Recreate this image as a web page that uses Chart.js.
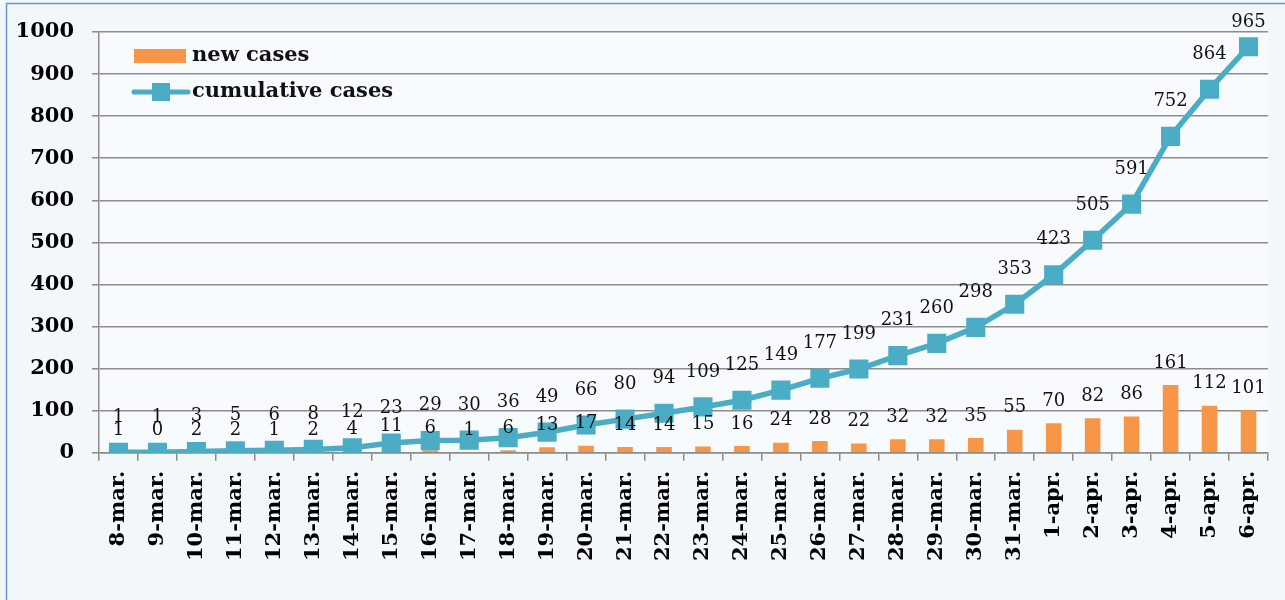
<!DOCTYPE html>
<html>
<head>
<meta charset="utf-8">
<script src="https://cdn.jsdelivr.net/npm/chart.js@4.4.1/dist/chart.umd.min.js"></script>
<style>
  html, body { margin: 0; padding: 0; background: #f2f7fa; }
  #wrap { width: 1285px; height: 600px; }
</style>
</head>
<body>
<div id="wrap"><canvas id="casesChart" width="1285" height="600"></canvas></div>
<script>
// --- data ---
const days = ["8-mar.", "9-mar.", "10-mar.", "11-mar.", "12-mar.", "13-mar.", "14-mar.", "15-mar.",
  "16-mar.", "17-mar.", "18-mar.", "19-mar.", "20-mar.", "21-mar.", "22-mar.", "23-mar.", "24-mar.",
  "25-mar.", "26-mar.", "27-mar.", "28-mar.", "29-mar.", "30-mar.", "31-mar.",
  "1-apr.", "2-apr.", "3-apr.", "4-apr.", "5-apr.", "6-apr."];
const newCases = [1, 0, 2, 2, 1, 2, 4, 11, 6, 1, 6, 13, 17, 14, 14, 15, 16, 24, 28, 22, 32, 32, 35, 55,
  70, 82, 86, 161, 112, 101];
const cumulativeCases = [1, 1, 3, 5, 6, 8, 12, 23, 29, 30, 36, 49, 66, 80, 94, 109, 125, 149, 177, 199,
  231, 260, 298, 353, 423, 505, 591, 752, 864, 965];
const seriesNames = ["new cases", "cumulative cases"];
const yMin = 0, yMax = 1000, yStep = 100;

const ORANGE = "#f79646";
const TEAL = "#4bacc6";
const GRID = "#8c8c8c";
const SERIF = "'DejaVu Serif', 'Liberation Serif', serif";

// fondo y marco
const backgroundPlugin = {
  id: "background",
  beforeDraw(chart) {
    const { ctx, chartArea } = chart;
    ctx.save();
    ctx.fillStyle = "#f2f7fa";
    ctx.fillRect(0, 0, chart.width, chart.height);
    ctx.fillStyle = "#f8fbfd";
    ctx.fillRect(chartArea.left, chartArea.top, chartArea.right - chartArea.left, chartArea.bottom - chartArea.top);
    ctx.strokeStyle = "#6a98d4";
    ctx.lineWidth = 1.5;
    ctx.beginPath();
    ctx.moveTo(6.5, chart.height);
    ctx.lineTo(6.5, 3.5);
    ctx.lineTo(chart.width, 3.5);
    ctx.stroke();
    ctx.restore();
  }
};

// etiquetas de valores encima de barras y puntos
const valueLabelPlugin = {
  id: "valueLabels",
  afterDatasetsDraw(chart) {
    const { ctx, chartArea } = chart;
    ctx.save();
    ctx.font = "18px " + SERIF;
    ctx.fillStyle = "#111";
    ctx.textAlign = "center";
    ctx.textBaseline = "middle";
    chart.data.datasets.forEach((ds, i) => {
      const meta = chart.getDatasetMeta(i);
      const offset = ds.type === "line" ? 35 : 22;
      meta.data.forEach((el, j) => {
        let y = el.y - offset;
        if (y < chartArea.top - 10) y = chartArea.top - 10;
        ctx.fillText(String(ds.data[j]), el.x, y);
      });
    });
    ctx.restore();
  }
};

// leyenda dentro del área del gráfico
const legendPlugin = {
  id: "insideLegend",
  afterDraw(chart) {
    const { ctx, chartArea } = chart;
    const x0 = chartArea.left + 35;
    ctx.save();
    ctx.fillStyle = ORANGE;
    ctx.fillRect(x0, 49, 52, 14);
    ctx.strokeStyle = TEAL;
    ctx.lineWidth = 5;
    ctx.lineCap = "round";
    ctx.beginPath();
    ctx.moveTo(x0, 92);
    ctx.lineTo(x0 + 54, 92);
    ctx.stroke();
    ctx.fillStyle = TEAL;
    ctx.fillRect(x0 + 18, 83, 18, 18);
    ctx.fillStyle = "#111";
    ctx.font = "bold 21px " + SERIF;
    ctx.textBaseline = "middle";
    ctx.fillText(seriesNames[0], x0 + 58, 56);
    ctx.fillText(seriesNames[1], x0 + 58, 92);
    ctx.restore();
  }
};

const ctx = document.getElementById("casesChart").getContext("2d");
const casesChart = new Chart(ctx, {
  type: "bar",
  data: {
    labels: days,
    datasets: [
      {
        type: "line",
        label: seriesNames[1],
        data: cumulativeCases,
        borderColor: TEAL,
        backgroundColor: TEAL,
        borderWidth: 5.5,
        tension: 0,
        pointStyle: "rect",
        pointRadius: 13.5,
        pointBorderWidth: 0,
        pointBackgroundColor: TEAL,
        order: 0
      },
      {
        type: "bar",
        label: seriesNames[0],
        data: newCases,
        backgroundColor: ORANGE,
        barPercentage: 0.4,
        categoryPercentage: 1.0,
        order: 1
      }
    ]
  },
  options: {
    responsive: false,
    animation: false,
    layout: { padding: { left: 15, right: 17, top: 32, bottom: 29 } },
    plugins: {
      legend: { display: false },
      tooltip: { enabled: false }
    },
    scales: {
      x: {
        offset: true,
        grid: { display: true, drawOnChartArea: false, drawTicks: true, tickLength: 8, offset: true, color: GRID, lineWidth: 1.5 },
        border: { color: GRID, width: 1.5 },
        ticks: {
          color: "#000",
          font: { family: SERIF, size: 21, weight: "bold" },
          minRotation: 90,
          maxRotation: 90,
          autoSkip: false,
          padding: 10
        }
      },
      y: {
        min: yMin,
        max: yMax,
        afterFit: (scale) => { scale.width = 84; },
        grid: { color: GRID, lineWidth: 1.5, tickLength: 7 },
        border: { color: GRID, width: 1.5 },
        ticks: {
          stepSize: yStep,
          color: "#000",
          font: { family: SERIF, size: 21, weight: "bold" },
          padding: 18,
          callback: (v) => String(v)
        }
      }
    }
  },
  plugins: [backgroundPlugin, valueLabelPlugin, legendPlugin]
});
</script>
</body>
</html>
